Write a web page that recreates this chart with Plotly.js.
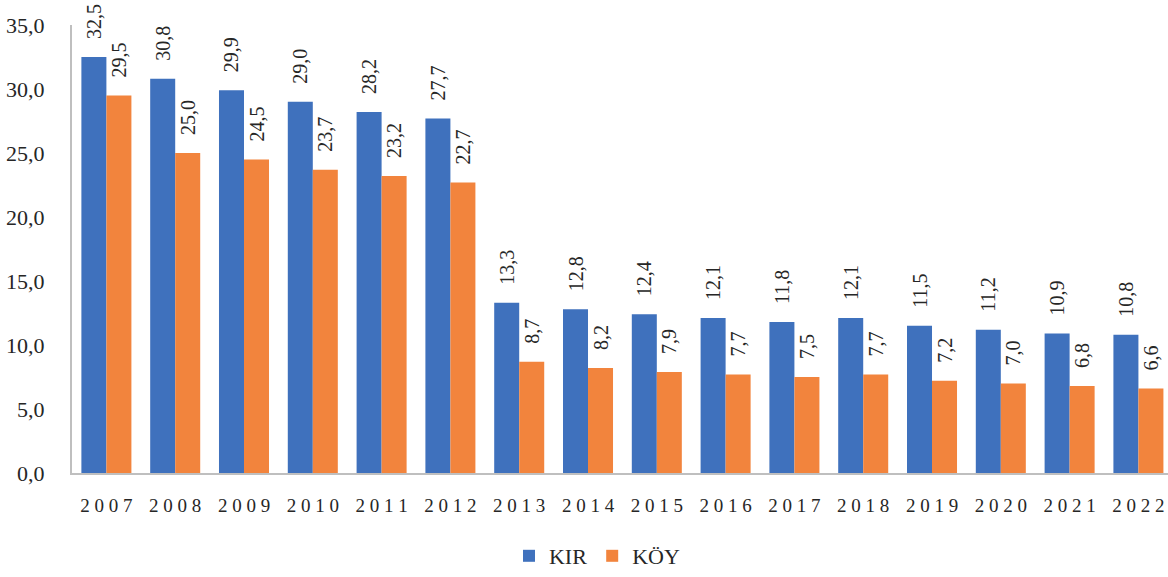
<!DOCTYPE html>
<html>
<head>
<meta charset="utf-8">
<script src="https://cdn.plot.ly/plotly-3.0.1.min.js"></script>
<style>html,body{margin:0;padding:0;background:#fff;}#chart{width:1168px;height:577px;}</style>
</head>
<body>
<div id="chart"></div>
<script>
const years = ['2007','2008','2009','2010','2011','2012','2013','2014','2015','2016','2017','2018','2019','2020','2021','2022'];
const kir = [32.5, 30.8, 29.9, 29.0, 28.2, 27.7, 13.3, 12.8, 12.4, 12.1, 11.8, 12.1, 11.5, 11.2, 10.9, 10.8];
const koy = [29.5, 25.0, 24.5, 23.7, 23.2, 22.7, 8.7, 8.2, 7.9, 7.7, 7.5, 7.7, 7.2, 7.0, 6.8, 6.6];
const yTicks = [0, 5, 10, 15, 20, 25, 30, 35];

const FONT = 'Liberation Serif';
const TXT = '#262626';
const tickText = years.map(y => y.split('').join(' '));

const common = {
  type: 'bar',
  x: years,
  texttemplate: '\u00a0\u00a0\u00a0%{y:.1f}',
  textposition: 'outside',
  textangle: -90,
  constraintext: 'none',
  cliponaxis: false,
  textfont: {family: FONT, size: 20, color: TXT},
  hoverinfo: 'skip'
};

const data = [
  Object.assign({}, common, {name: 'KIR', y: kir, marker: {color: '#3F71BD'}}),
  Object.assign({}, common, {name: 'KÖY', y: koy, marker: {color: '#F2843D'}})
];

const layout = {
  width: 1168, height: 577,
  margin: {l: 72, r: 0, t: 25, b: 101},
  separators: ', ',
  paper_bgcolor: '#fff', plot_bgcolor: '#fff',
  barmode: 'group',
  bargap: 0.273,
  bargroupgap: 0,
  font: {family: FONT, color: TXT, size: 20},
  showlegend: true,
  legend: {orientation: 'h', x: 0.479, xanchor: 'center', y: -0.186, yanchor: 'middle',
           font: {family: FONT, size: 22, color: TXT}, itemwidth: 30, tracegroupgap: 0},
  xaxis: {
    type: 'category', range: [-0.5, 15.43],
    tickmode: 'array', tickvals: years, ticktext: tickText,
    showline: true, linecolor: '#bfbfbf', linewidth: 2,
    ticks: '', showgrid: false, zeroline: false,
    tickfont: {family: FONT, size: 19, color: TXT},
    ticklabelstandoff: 14
  },
  yaxis: {
    range: [0, 35], tickmode: 'array', tickvals: yTicks,
    tickformat: '.1f',
    showline: true, linecolor: '#bfbfbf', linewidth: 2,
    ticks: '', showgrid: false, zeroline: false,
    tickfont: {family: FONT, size: 22, color: TXT},
    ticklabelstandoff: 21
  }
};

Plotly.newPlot('chart', data, layout, {displayModeBar: false, staticPlot: true});
</script>
</body>
</html>
